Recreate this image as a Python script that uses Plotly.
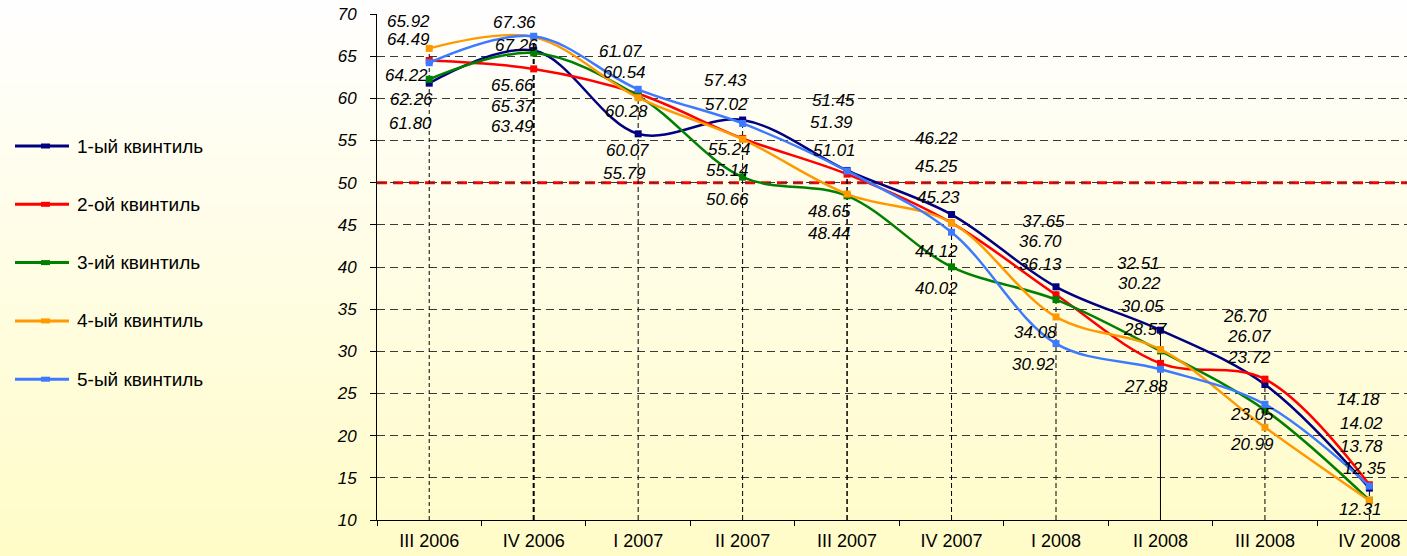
import plotly.graph_objects as go

# ---------------- data ----------------
categories = ["III 2006", "IV 2006", "I 2007", "II 2007", "III 2007",
              "IV 2007", "I 2008", "II 2008", "III 2008", "IV 2008"]

series_names = ["1-ый квинтиль", "2-ой квинтиль", "3-ий квинтиль",
                "4-ый квинтиль", "5-ый квинтиль"]

q1 = [61.80, 65.66, 55.79, 57.43, 51.45, 46.22, 37.65, 32.51, 26.07, 13.78]
q2 = [64.49, 63.49, 60.54, 55.24, 51.01, 45.23, 36.70, 28.57, 26.70, 14.18]
q3 = [62.26, 65.37, 60.28, 50.66, 48.44, 40.02, 36.13, 30.05, 23.05, 12.35]
q4 = [65.92, 67.26, 60.07, 55.14, 48.65, 45.25, 34.08, 30.22, 20.99, 12.31]
q5 = [64.22, 67.36, 61.07, 57.02, 51.39, 44.12, 30.92, 27.88, 23.72, 14.02]

threshold = 50
y_ticks = list(range(10, 71, 5))

# ---------------- styles ----------------
colors = ["#000080", "#FF0000", "#008000", "#FF9900", "#3C7BFF"]
FONT = "Liberation Sans, Arial, sans-serif"

# data-label offsets from their point, in pixels (dx right, dy down)
label_dx = [
    [-19, -21, -14, -17, -14, -15, -13, -22, -16, -8],
    [-21, -21, -14, -13, -13, -13, -16, -15, -20, -11],
    [-18, -21, -12, -15, -18, -15, -16, -18, -13, -5],
    [-21, -17, -11, -15, -18, -15, -21, -21, -13, -9],
    [-23, -19, -18, -16, -16, -15, -23, -14, -16, -8],
]
label_dy = [
    [40, 35, 39.5, -40, -69.7, -76.2, -65.1, -66.9, -47.8, -41.4],
    [-21.2, 57.1, -21.5, 10.8, -23.4, -25.6, -53.8, -34.1, -63.1, -85.7],
    [20, 53.7, 15.7, 22.2, 37.5, 21.2, -35.6, -44.9, 4.1, -31.9],
    [-26.7, 7.9, 52.3, 31.4, 17.7, -56.7, 15.8, -66.2, 16.7, 8.8],
    [12.3, -13.6, -37.6, -18.5, -48.6, 19.5, 21.4, 17.5, -47, -62.8],
]
drop_dash = ["4px,3px", "5px,3px", "5px,3px", "5px,3px", "5px,3px",
             "5px,3px", "5px,3px", "solid", "5px,3px", "5px,3px"]
drop_width = [1, 2, 1, 1, 1.5, 1, 1, 1, 1, 1]

W, H = 1407, 556
ML, MR, MT, MB = 377, 0, 14, 36
PW, PH = W - ML - MR, H - MT - MB

series = [q1, q2, q3, q4, q5]

fig = go.Figure()
for name, vals, col in zip(series_names, series, colors):
    fig.add_trace(go.Scatter(
        x=categories, y=vals, name=name, mode="lines+markers",
        line=dict(color=col, width=2.5, shape="spline", smoothing=1.0),
        marker=dict(symbol="square", size=7, color=col),
        showlegend=False, hoverinfo="x+y+name"))

annotations = []
for s, vals in enumerate(series):
    for i, v in enumerate(vals):
        annotations.append(dict(
            x=i, y=v, xref="x", yref="y", text=f"{v:.2f}", showarrow=False,
            xshift=label_dx[s][i], yshift=-label_dy[s][i],
            font=dict(family=FONT, size=17, color="black", style="italic")))

shapes = []
# background gradient (white -> pale yellow)
nb = 60
for k in range(nb):
    py0 = H * k / nb
    py1 = H * (k + 1) / nb + 1
    t = (k + 0.5) / nb
    r, g, b = 255, int(255 - 3 * t), int(255 - 55 * t)
    shapes.append(dict(type="rect", xref="paper", yref="paper",
                       x0=-ML / PW - 0.01, x1=1.01,
                       y0=(H - MB - py1) / PH, y1=(H - MB - py0) / PH,
                       fillcolor=f"rgb({r},{g},{b})", line=dict(width=0),
                       layer="below"))

# drop lines from the highest point down to the axis
for i in range(len(categories)):
    top = max(s[i] for s in series)
    shapes.append(dict(type="line", xref="x", yref="y", x0=i, x1=i,
                       y0=y_ticks[0], y1=top, layer="between",
                       line=dict(color="black", width=drop_width[i],
                                 dash=drop_dash[i])))

# red threshold line
shapes.append(dict(type="line", xref="paper", yref="y", x0=0, x1=1,
                   y0=threshold, y1=threshold, layer="between",
                   line=dict(color="#FF0000", width=3, dash="10px,6px")))

# custom legend
leg_y0, leg_step = 146, 58.3
for s, (name, col) in enumerate(zip(series_names, colors)):
    py = leg_y0 + s * leg_step
    yp = (H - MB - py) / PH
    shapes.append(dict(type="line", xref="paper", yref="paper",
                       x0=(15 - ML) / PW, x1=(69 - ML) / PW, y0=yp, y1=yp,
                       line=dict(color=col, width=3)))
    shapes.append(dict(type="rect", xref="paper", yref="paper",
                       x0=(41 - ML) / PW, x1=(50 - ML) / PW,
                       y0=yp - 2.5 / PH, y1=yp + 2.5 / PH,
                       fillcolor=col, line=dict(width=0)))
    annotations.append(dict(x=(75 - ML) / PW, y=yp, xref="paper", yref="paper",
                            text=name, showarrow=False, xanchor="left",
                            yanchor="middle",
                            font=dict(family=FONT, size=19, color="black")))

fig.update_layout(
    width=W, height=H,
    margin=dict(l=ML, r=MR, t=MT, b=MB, pad=0),
    paper_bgcolor="white", plot_bgcolor="rgba(0,0,0,0)",
    shapes=shapes, annotations=annotations,
    font=dict(family=FONT, color="black"),
    xaxis=dict(type="category", range=[-0.5, 9.36], showgrid=False,
               showline=True, linecolor="black", linewidth=1,
               ticks="outside", ticklen=5, tickcolor="black",
               tickson="boundaries", tickfont=dict(size=18, family=FONT),
               ticklabelstandoff=4, zeroline=False, fixedrange=True),
    yaxis=dict(range=[10, 70], tickvals=y_ticks, showgrid=True,
               gridcolor="#3a3a3a", gridwidth=1, griddash="8px,5px",
               showline=True, linecolor="black", linewidth=1,
               ticks="outside", ticklen=6, tickcolor="black",
               tickfont=dict(size=17, family=FONT, style="italic"),
               ticklabelstandoff=10, zeroline=False, fixedrange=True),
)

fig.write_html("out.html", config={"displayModeBar": False},
               post_script="document.body.style.margin='0';document.body.style.overflow='hidden';")
